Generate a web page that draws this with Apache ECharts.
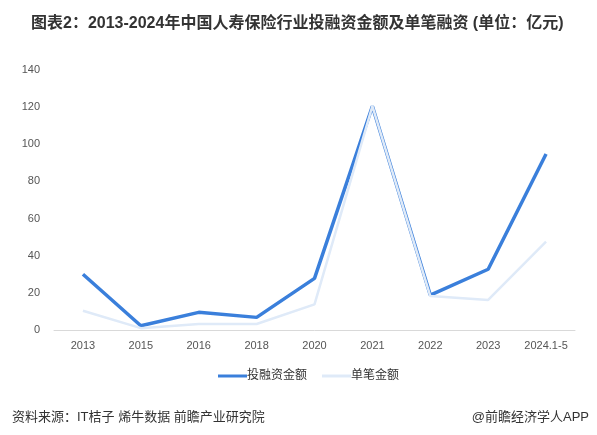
<!DOCTYPE html>
<html>
<head>
<meta charset="utf-8">
<script src="https://cdn.jsdelivr.net/npm/echarts@6/dist/echarts.min.js"></script>
<style>
  html, body { margin: 0; padding: 0; background: #fff; }
  #chart { width: 597px; height: 435px; }
</style>
</head>
<body>
<div id="chart"></div>
<script>
// 年份
var years = ['2013', '2015', '2016', '2018', '2020', '2021', '2022', '2023', '2024.1-5'];
// 投融资金额（亿元）
var totalAmount = [30, 2.3, 9.5, 6.8, 27.8, 120.5, 18.8, 32.7, 94.8];
// 单笔金额（亿元）
var singleAmount = [10.4, 1, 3.2, 3.2, 13.8, 120.5, 18.3, 16.2, 47.6];

var chart = echarts.init(document.getElementById('chart'));

var font = '"Liberation Sans", "Noto Sans CJK SC", sans-serif';

var option = {
  backgroundColor: '#fff',
  textStyle: { fontFamily: font },
  title: [{
    text: '图表2：2013-2024年中国人寿保险行业投融资金额及单笔融资 (单位：亿元)',
    left: 26,
    top: 11,
    textStyle: { fontSize: 16, fontWeight: 'bold', color: '#333', fontFamily: font }
  }, {
    text: '资料来源：IT桔子 烯牛数据 前瞻产业研究院',
    left: 7,
    top: 406,
    textStyle: { fontSize: 13, fontWeight: 'normal', color: '#333', fontFamily: font }
  }, {
    text: '@前瞻经济学人APP',
    right: 3,
    top: 406,
    textStyle: { fontSize: 13, fontWeight: 'normal', color: '#333', fontFamily: font }
  }],
  legend: {
    left: 213,
    top: 365,
    itemWidth: 29,
    itemHeight: 3,
    itemGap: 15,
    icon: 'rect',
    textStyle: { fontSize: 12, color: '#333', padding: [0, 0, 0, -5] },
    data: ['投融资金额', '单笔金额']
  },
  grid: { left: 54, right: 22, top: 70, bottom: 105 },
  xAxis: {
    type: 'category',
    data: years,
    axisLine: { lineStyle: { color: '#d9d9d9' } },
    axisTick: { show: false },
    axisLabel: { color: '#555', fontSize: 11, margin: 10 }
  },
  yAxis: {
    type: 'value',
    min: 0,
    max: 140,
    interval: 20,
    splitLine: { show: false },
    axisLine: { show: false },
    axisTick: { show: false },
    axisLabel: { color: '#555', fontSize: 11, margin: 14 }
  },
  series: [{
    name: '投融资金额',
    type: 'line',
    data: totalAmount,
    symbol: 'none',
    lineStyle: { width: 3.5, color: '#3a7fdb' },
    itemStyle: { color: '#3a7fdb' },
    z: 2
  }, {
    name: '单笔金额',
    type: 'line',
    data: singleAmount,
    symbol: 'none',
    lineStyle: { width: 2.5, color: '#dfeaf8' },
    itemStyle: { color: '#dfeaf8' },
    z: 3
  }]
};

chart.setOption(option);
</script>
</body>
</html>
